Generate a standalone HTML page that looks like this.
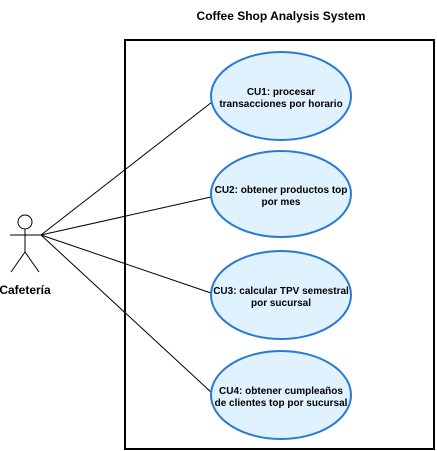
<!DOCTYPE html>
<html><head><meta charset="utf-8"><style>body{margin:0;background:#fff}svg{display:block}</style></head>
<body>
<svg width="437" height="451" xmlns="http://www.w3.org/2000/svg" font-family="Liberation Sans, sans-serif" font-weight="bold" font-size="10">
<rect width="437" height="451" fill="#fff"/>
<text x="281" y="20" text-anchor="middle" font-size="12">Coffee Shop Analysis System</text>
<rect x="125" y="40" width="309" height="409" fill="none" stroke="#000" stroke-width="2"/>
<g stroke="#000" stroke-width="1" fill="none">
<line x1="41" y1="235" x2="212" y2="102"/>
<line x1="41" y1="235" x2="211" y2="197"/>
<line x1="41" y1="235" x2="211" y2="293"/>
<line x1="41" y1="235" x2="212" y2="393"/>
<circle cx="25" cy="222" r="7" fill="#fff"/>
<line x1="25" y1="229" x2="25" y2="252"/>
<line x1="10" y1="235" x2="41" y2="235"/>
<line x1="25" y1="252" x2="11" y2="272"/>
<line x1="25" y1="252" x2="39" y2="272"/>
</g>
<text x="25" y="294" text-anchor="middle" font-size="12">Cafetería</text>
<g fill="#dff2fd" stroke="#2a7ad5" stroke-width="2">
<ellipse cx="281" cy="96" rx="70" ry="44"/>
<ellipse cx="281" cy="194" rx="70" ry="43"/>
<ellipse cx="281" cy="295" rx="70" ry="44"/>
<ellipse cx="281" cy="395" rx="70" ry="44"/>
</g>
<g text-anchor="middle" fill="#000">
<text x="281" y="95">CU1: procesar</text><text x="281" y="107">transacciones por horario</text>
<text x="281" y="193">CU2: obtener productos top</text><text x="281" y="205">por mes</text>
<text x="281" y="294">CU3: calcular TPV semestral</text><text x="281" y="306">por sucursal</text>
<text x="281" y="394">CU4: obtener cumpleaños</text><text x="281" y="406">de clientes top por sucursal</text>
</g>
</svg>
</body></html>
